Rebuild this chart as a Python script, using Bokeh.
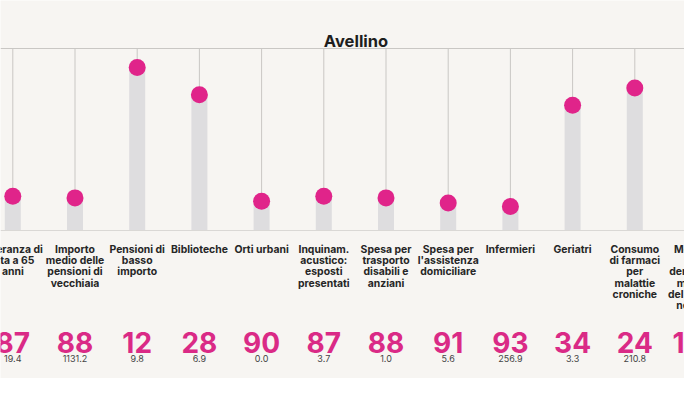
from bokeh.plotting import figure
from bokeh.models import Range1d, Span, ColumnDataSource
from bokeh.core.properties import value
from bokeh.embed import file_html
from bokeh.resources import INLINE

# ---- data ----
title = "Avellino"
labels = [
    ["Speranza di", "vita a 65", "anni"],
    ["Importo", "medio delle", "pensioni di", "vecchiaia"],
    ["Pensioni di", "basso", "importo"],
    ["Biblioteche"],
    ["Orti urbani"],
    ["Inquinam.", "acustico:", "esposti", "presentati"],
    ["Spesa per", "trasporto", "disabili e", "anziani"],
    ["Spesa per", "l'assistenza", "domiciliare"],
    ["Infermieri"],
    ["Geriatri"],
    ["Consumo", "di farmaci", "per", "malattie", "croniche"],
    ["Mortalità", "per", "demenze e", "malattie", "del sistema", "nervoso"],
]
ranks = [87, 88, 12, 28, 90, 87, 88, 91, 93, 34, 24, 106]
values = ["19.4", "1131.2", "9.8", "6.9", "0.0", "3.7", "1.0", "5.6", "256.9", "3.3", "210.8", "21.5"]
n_prov = 107

# ---- layout helpers ----
W, H = 684, 378
OFF = 0
X0, DX = 12.3, 62.2          # px of first column and spacing
BASE, TOP = 230.0, 48.0      # px of baseline and top rule
SMAX = 106.0
K = (BASE - TOP) / SMAX

def ys(py):
    return (BASE - py) / K

idx = list(range(len(ranks)))
score = [n_prov - r for r in ranks]

bg = "#f7f5f2"
pink = "#e0248a"
pink_txt = "#da2a86"

p = figure(width=W, height=H, output_backend="svg", toolbar_location=None,
           x_range=Range1d((OFF - X0) / DX, (OFF + W - X0) / DX),
           y_range=Range1d(ys(OFF + H), ys(OFF)),
           min_border=0, background_fill_color=bg, border_fill_color=bg,
           outline_line_color=None)
p.xaxis.visible = False
p.yaxis.visible = False
p.grid.visible = False

src = ColumnDataSource(dict(x=idx, s=score, top=[SMAX] * len(idx)))

p.add_layout(Span(location=SMAX, dimension="width", line_color="#c9c7c4", line_width=1))
p.add_layout(Span(location=0, dimension="width", line_color="#dad8d5", line_width=1))

p.vbar(x="x", top="s", bottom=0, width=16 / DX, source=src,
       fill_color="#dedddf", line_color=None)
p.segment(x0="x", y0="s", x1="x", y1="top", source=src,
          line_color="#c9c7c4", line_width=1)
p.scatter(x="x", y="s", size=17, source=src, fill_color=pink, line_color=None)

# title
p.text(x=[(355.5 - X0) / DX], y=[ys(40.7)], text=[title],
       text_font=value("Inter"), text_font_style="bold", text_font_size="16.5px",
       text_color="#1e1e1e", text_align="center", text_baseline="alphabetic")

# category labels
lx, ly, lt = [], [], []
for i, lines in enumerate(labels):
    for k, t in enumerate(lines):
        lx.append(i)
        ly.append(ys(249 + 11.2 * k))
        lt.append(t)
p.text(x=lx, y=ly, text=lt, text_font=value("Inter"), text_font_style="bold",
       text_font_size="10.4px", text_color="#262626",
       text_align="center", text_baseline="alphabetic")

# ranks
p.text(x=idx, y=[ys(341.7)] * len(idx), text=[str(r) for r in ranks],
       text_font=value("Inter"), text_font_style="bold", text_font_size="28px",
       text_color=pink_txt, text_align="center", text_baseline="alphabetic")

# values
p.text(x=idx, y=[ys(358.3)] * len(idx), text=values,
       text_font=value("Inter"), text_font_size="9px", text_color="#444444",
       text_align="center", text_baseline="alphabetic")

open("out.html", "w").write(file_html(p, INLINE))
